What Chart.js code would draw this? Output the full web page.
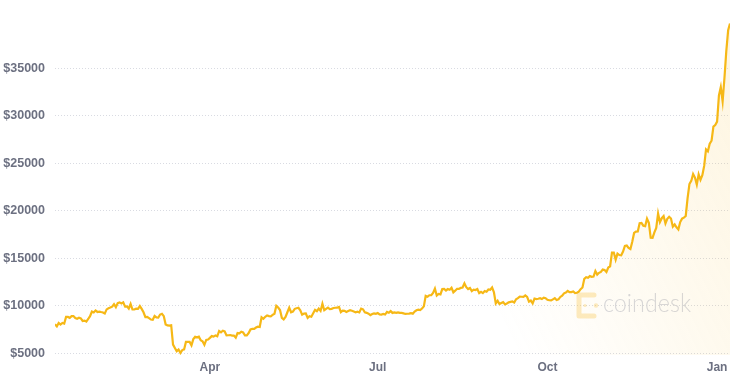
<!DOCTYPE html>
<html>
<head>
<meta charset="utf-8">
<script src="https://cdn.jsdelivr.net/npm/chart.js@4.4.1/dist/chart.umd.min.js"></script>
<style>
  html, body { margin: 0; padding: 0; background: #ffffff; }
  #wrap { width: 736px; height: 381px; position: relative; }
</style>
</head>
<body>
<div id="wrap"><canvas id="c" width="736" height="381"></canvas></div>
<script>
// Daily BTC price (USD), 2020-01-08 .. 2021-01-08
const jan2020 = [8040, 7820, 8190, 8020, 8180, 8110, 8820, 8820, 8720, 8900, 8910, 8700, 8630, 8730, 8660, 8390, 8430, 8330, 8600, 8900, 9390, 9290, 9500, 9340];
const feb2020 = [9380, 9330, 9290, 9180, 9610, 9730, 9800, 9900, 10160, 9850, 10270, 10350, 10240, 10360, 9900, 9930, 9700, 10180, 9600, 9600, 9690, 9670, 9960, 9660, 9310, 8790, 8810, 8690, 8540];
const mar2020 = [8520, 8910, 8760, 8750, 9070, 9150, 8900, 8030, 7930, 7900, 7940, 5900, 5550, 5200, 5390, 5030, 5330, 5400, 6190, 6200, 6190, 5830, 6480, 6730, 6680, 6740, 6370, 6250, 5880, 6400, 6440];
const apr2020 = [6610, 6800, 6740, 6870, 6780, 7340, 7200, 7370, 7290, 6870, 6890, 6910, 6850, 6860, 6640, 7120, 7100, 7260, 7190, 6880, 6880, 7120, 7500, 7550, 7560, 7700, 7790, 7760, 8780, 8620];
const may2020 = [8830, 8970, 8900, 8880, 9030, 9150, 9990, 9810, 9540, 8720, 8560, 8810, 9310, 9790, 9310, 9380, 9670, 9730, 9780, 9510, 9060, 9170, 9180, 8720, 8900, 8840, 9200, 9570, 9430, 9700, 9450];
const jun2020 = [10200, 9520, 9660, 9800, 9650, 9670, 9760, 9780, 9790, 9870, 9320, 9470, 9460, 9340, 9430, 9520, 9460, 9390, 9310, 9360, 9290, 9690, 9620, 9300, 9250, 9160, 9010, 9120, 9190, 9140];
const jul2020 = [9230, 9090, 9060, 9130, 9070, 9340, 9250, 9430, 9240, 9290, 9240, 9300, 9240, 9240, 9190, 9130, 9150, 9170, 9210, 9160, 9390, 9520, 9580, 9540, 9700, 9930, 11030, 10950, 11100, 11110, 11350];
const aug2020 = [11800, 11070, 11230, 11190, 11750, 11770, 11600, 11750, 11680, 11880, 11410, 11580, 11780, 11770, 11870, 11910, 12350, 11950, 11750, 11860, 11530, 11680, 11650, 11750, 11320, 11460, 11320, 11540, 11470, 11710, 11680];
const sep2020 = [11920, 11400, 10240, 10510, 10170, 10280, 10370, 10130, 10230, 10350, 10400, 10440, 10330, 10680, 10790, 10950, 10940, 10930, 11080, 10920, 10420, 10540, 10250, 10750, 10700, 10730, 10780, 10700, 10840, 10780];
const oct2020 = [10620, 10570, 10550, 10670, 10790, 10600, 10670, 10920, 11060, 11300, 11380, 11550, 11430, 11430, 11500, 11320, 11360, 11480, 11740, 11920, 12820, 12990, 12930, 13110, 13030, 13070, 13650, 13270, 13460, 13560, 13800];
const nov2020 = [13760, 13550, 14020, 14150, 15590, 15590, 14840, 15480, 15330, 15310, 15700, 16280, 16330, 16070, 15960, 16720, 17650, 17800, 17820, 18680, 18710, 18420, 18370, 19160, 18720, 17150, 17140, 17720, 18180, 19700];
const dec2020 = [18800, 19210, 19430, 18650, 19150, 19360, 19170, 18320, 18550, 18250, 18030, 18800, 19160, 19270, 19440, 21310, 22800, 23130, 23850, 23480, 22740, 23820, 23240, 23730, 24710, 26440, 26250, 27040, 27360, 28840, 29000];
const jan2021 = [29370, 32130, 33000, 31500, 33990, 36820, 39000, 39700];

const prices = [].concat(jan2020, feb2020, mar2020, apr2020, may2020, jun2020,
                         jul2020, aug2020, sep2020, oct2020, nov2020, dec2020, jan2021);

// x tick positions (day index from 2020-01-08) and their labels
const xTickDays = [84, 175, 267, 359];
const xTickLabels = ['Apr', 'Jul', 'Oct', 'Jan'];
// y tick values
const yTickValues = [5000, 10000, 15000, 20000, 25000, 30000, 35000];

const points = prices.map((v, i) => ({ x: i, y: v }));

const LINE = '#f6b816';
const TEXT = '#6c7081';

const watermark = {
  id: 'watermark',
  beforeDatasetsDraw(chart) {
    const c = chart.ctx;
    c.save();
    // logo mark
    c.strokeStyle = 'rgba(247,190,50,0.3)';
    c.fillStyle = 'rgba(247,190,50,0.3)';
    c.lineWidth = 5;
    c.lineCap = 'round';
    c.lineJoin = 'round';
    c.beginPath();
    c.moveTo(594, 295);
    c.lineTo(579, 295);
    c.lineTo(579, 316);
    c.lineTo(594, 316);
    c.stroke();
    c.beginPath(); c.arc(596, 305.5, 2.2, 0, Math.PI * 2); c.fill();
    c.beginPath(); c.arc(585, 305.5, 1.6, 0, Math.PI * 2); c.fill();
    // word mark
    c.fillStyle = '#d6d8e0';
    c.font = '300 26px Lato, "Open Sans", sans-serif';
    c.textBaseline = 'alphabetic';
    c.textAlign = 'left';
    c.fillText('coindesk', 603, 312, 88);
    c.restore();
  }
};

new Chart(document.getElementById('c'), {
  type: 'line',
  data: {
    datasets: [{
      data: points,
      borderColor: LINE,
      borderWidth: 2.2,
      pointRadius: 0,
      tension: 0,
      fill: 'start',
      backgroundColor: (ctx) => {
        const ch = ctx.chart;
        const a = ch.chartArea;
        if (!a) return 'rgba(0,0,0,0)';
        const g = ch.ctx.createLinearGradient(a.left, a.bottom, a.right, a.top);
        g.addColorStop(0, 'rgba(247,190,50,0)');
        g.addColorStop(0.55, 'rgba(247,190,50,0)');
        g.addColorStop(1, 'rgba(247,190,50,0.15)');
        return g;
      }
    }]
  },
  options: {
    responsive: false,
    animation: false,
    layout: { padding: { top: 22.5, right: 6, bottom: 1.5, left: 0 } },
    plugins: { legend: { display: false }, tooltip: { enabled: false } },
    scales: {
      x: {
        type: 'linear',
        min: 0,
        max: prices.length - 1,
        grid: { display: false, drawTicks: false },
        border: { display: false },
        afterBuildTicks: (axis) => { axis.ticks = xTickDays.map(v => ({ value: v })); },
        ticks: {
          padding: 5,
          autoSkip: false,
          maxRotation: 0,
          color: TEXT,
          font: { family: '"Liberation Sans", Arial, sans-serif', size: 12, weight: 'bold' },
          callback: (v) => { const k = xTickDays.indexOf(v); return k >= 0 ? xTickLabels[k] : ''; }
        }
      },
      y: {
        min: 4800,
        max: 39800,
        afterFit: (s) => { s.width = 55; },
        afterBuildTicks: (axis) => { axis.ticks = yTickValues.map(v => ({ value: v })); },
        grid: { color: '#d9dbe2', lineWidth: 1, drawTicks: false },
        border: { display: false, dash: [1, 2] },
        ticks: {
          padding: 10,
          color: TEXT,
          font: { family: '"Liberation Sans", Arial, sans-serif', size: 12.5, weight: 'bold' },
          callback: (v) => '$' + v
        }
      }
    }
  },
  plugins: [watermark]
});
</script>
</body>
</html>
